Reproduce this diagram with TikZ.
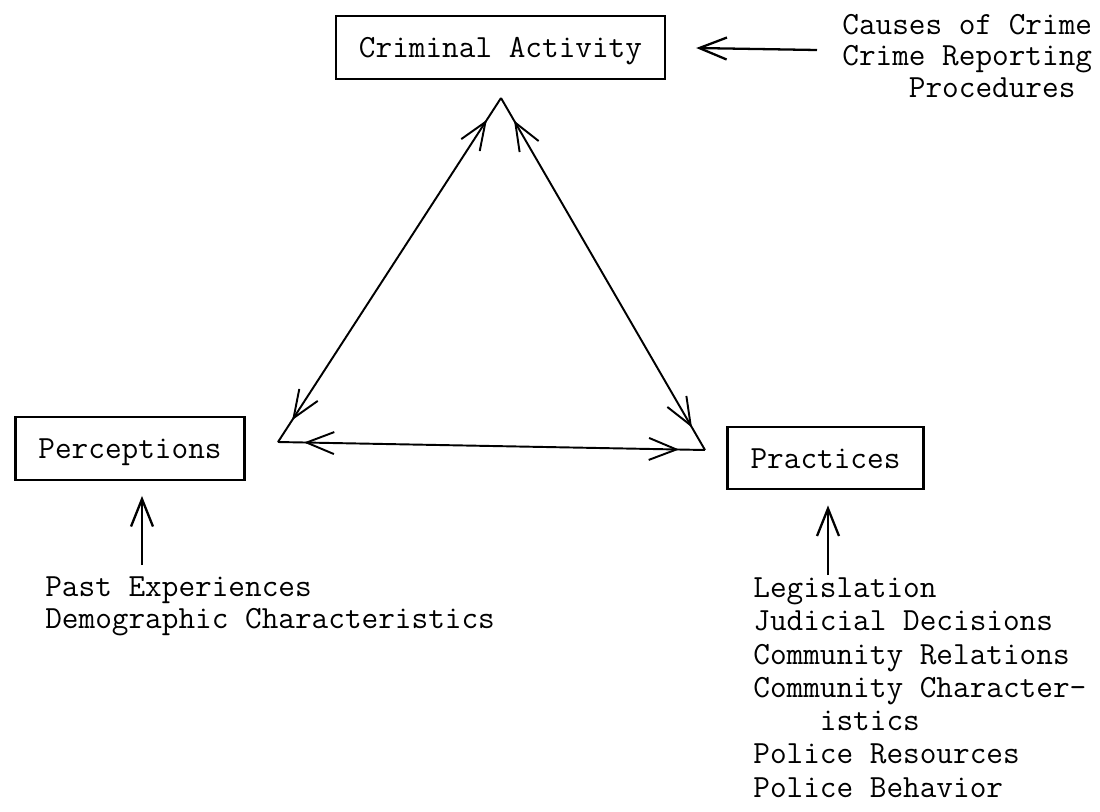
\documentclass[tikz,border=0pt]{standalone}
\usepackage{fontspec}
\usepackage{tikz}
\usetikzlibrary{arrows.meta,decorations.markings,positioning}

\begin{document}
\begin{tikzpicture}
      [ x=0.02cm, y=-0.02cm,
        >={Straight Barb[length=0.55cm,width=0.44cm]},
        every node/.style={font=\fontsize{18.4}{17.9}\selectfont\ttfamily},
        box/.style={draw, line width=1.4pt, inner xsep=0.46cm,
          minimum height=1.25cm, text height=11.4pt, text depth=0pt},
        factors/.style={align=left, inner sep=0pt, anchor=base west},
        link/.style={line width=1.1pt},
        both ways/.style={postaction={decorate}, decoration={markings,
          mark=at position 0.52cm with {\arrowreversed{>}},
          mark=at position -0.52cm with {\arrow{>}}}},
        feed/.style={->, line width=1.3pt}
      ]
      \useasboundingbox (0,0) rectangle (1100,812);

      \node[box]     (crime)    at (500.5,47.5)  {Criminal Activity};
      \node[box]     (perc)     at (130,448.5)   {Perceptions};
      \node[box]     (prac)     at (825.5,458)   {Practices};

      \coordinate    (top)      at (501,98);
      \coordinate    (left)     at (278,442);
      \coordinate    (right)    at (705,450);

      \path[link] (top)   edge [both ways] (left)
                  (top)   edge [both ways] (right)
                  (left)  edge [both ways] (right);

      % base anchor sits on the last line
      \node[factors] (causes)   at (842,97)
            {Causes of Crime\\Crime Reporting\\\phantom{Crim}Procedures};
      \node[factors] (pastlist) at (45,628)
            {Past Experiences\\Demographic Characteristics};
      \node[factors, font=\fontsize{18.4}{18.9}\selectfont\ttfamily]
                     (praclist) at (753,797)
            {Legislation\\Judicial Decisions\\Community Relations\\
             Community Character-\\\phantom{Comm}istics\\
             Police Resources\\Police Behavior};

      \coordinate    (causestail) at (817,50);
      \coordinate    (pasttail)   at (142,565);
      \coordinate    (practail)   at (828,575);

      \path[feed] (causestail) edge [shorten >=0.6cm] (crime.east)
                  (pasttail)   edge [shorten >=0.3cm] (pasttail |- perc.south)
                  (practail)   edge [shorten >=0.3cm] (practail |- prac.south);

    \end{tikzpicture}
\end{document}
